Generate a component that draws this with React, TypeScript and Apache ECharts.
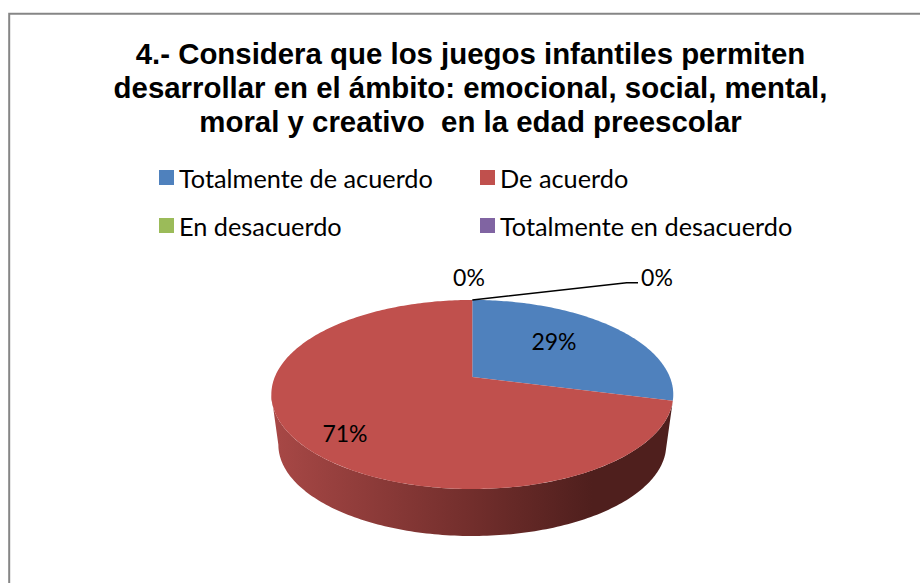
import React, { useEffect, useRef } from "react";
import * as echarts from "echarts";

const titleText = "4.- Considera que los juegos infantiles permiten\ndesarrollar en el ámbito: emocional, social, mental,\nmoral y creativo  en la edad preescolar";
const categories = ["Totalmente de acuerdo", "De acuerdo", "En desacuerdo", "Totalmente en desacuerdo"];
const values = [29, 71, 0, 0];
const colors = ["#4F81BD", "#C0504D", "#9BBB59", "#8064A2"];

// layout of the tilted disc (a projective view of a circle)
const CX = 472.3, CY = 377, A = 197.5, B = 91.3, K = 0.185;
const BASE_SCALE = 0.965, BASE_CY = 427.9;
const labelAt = [[554, 341], [345, 433], [469, 277], [657, 277]];
const legendAt = [[159, 165], [480, 165], [159, 213], [480, 213]];

const project = (deg: number, r: number, cy: number, scale: number): number[] => {
  const t = (deg * Math.PI) / 180;
  const s = r * Math.sin(t), c = r * Math.cos(t);
  const d = 1 + K * c;
  return [CX + (scale * A * s) / d, cy - (scale * B * c) / d];
};
const arc = (from: number, to: number, cy: number, scale: number) => {
  const n = Math.max(2, Math.ceil(Math.abs(to - from)));
  const out: number[][] = [];
  for (let i = 0; i <= n; i++) out.push(project(from + ((to - from) * i) / n, 1, cy, scale));
  return out;
};
const total = values.reduce((a, b) => a + b, 0);
const startDeg = (i: number) => (values.slice(0, i).reduce((a, b) => a + b, 0) / total) * 360;
const RIGHT_EDGE = (Math.acos(-K) * 180) / Math.PI;
const LEFT_EDGE = 360 - RIGHT_EDGE;

const wallFill = new echarts.graphic.LinearGradient(272, 0, 672, 0, [
  { offset: 0, color: "#A84846" },
  { offset: 0.5, color: "#722E2C" },
  { offset: 0.8, color: "#4F1F1D" },
  { offset: 1, color: "#4F1F1D" },
], true);

const renderSlice = (i: number) => () => {
  const a0 = startDeg(i), a1 = a0 + (values[i] / total) * 360;
  const children: any[] = [];
  if (values[i] > 0) {
    const w0 = Math.max(a0, RIGHT_EDGE), w1 = Math.min(a1, LEFT_EDGE);
    if (w1 - w0 > 20) {
      children.push({
        type: "polygon",
        shape: { points: [...arc(w0, w1, CY, 1), ...arc(w1, w0, BASE_CY, BASE_SCALE)] },
        style: { fill: wallFill },
      });
    }
    children.push({
      type: "polygon",
      shape: { points: [project(0, 0, CY, 1), ...arc(a0, a1, CY, 1)] },
      style: { fill: colors[i] },
    });
  }
  children.push({
    type: "text",
    z2: 10,
    style: {
      x: labelAt[i][0], y: labelAt[i][1], text: `${values[i]}%`,
      fill: "#000", font: "23px Lato", align: "center", verticalAlign: "middle",
    },
  });
  if (i === 3) {
    children.push({
      type: "polyline",
      z2: 10,
      shape: { points: [project(a0, 1, CY, 1), [626.7, 282.7], [638, 282.7]] },
      style: { fill: "none", stroke: "#000", lineWidth: 1.5 },
    });
  }
  return { type: "group", children };
};

export default function App() {
  const ref = useRef<HTMLDivElement>(null);
  useEffect(() => {
    const chart = echarts.init(ref.current!, null, { renderer: "svg" });
    chart.setOption({
      animation: false,
      backgroundColor: "#fff",
      title: {
        text: titleText,
        left: 465.5,
        top: 31,
        textAlign: "center",
        textStyle: { fontFamily: "Liberation Sans", fontWeight: "bold", fontSize: 29.4, lineHeight: 34, color: "#000" },
      },
      legend: categories.map((name, i) => ({
        data: [name],
        left: legendAt[i][0],
        top: legendAt[i][1],
        padding: 0,
        icon: "rect",
        itemWidth: 15,
        itemHeight: 15,
        selectedMode: false,
        textStyle: { fontFamily: "Lato", fontSize: 25.3, color: "#000" },
      })),
      graphic: [{
        type: "rect",
        silent: true,
        z: -1,
        shape: { x: 9.2, y: 13.7, width: 1000, height: 1000 },
        style: { fill: "none", stroke: "#868686", lineWidth: 2 },
      }],
      series: categories.map((name, i) => ({
        type: "custom",
        name,
        coordinateSystem: "none",
        itemStyle: { color: colors[i] },
        renderItem: renderSlice(i),
        data: [values[i]],
      })),
    });
    return () => chart.dispose();
  }, []);
  return <div ref={ref} style={{ position: "fixed", left: 0, top: 0, width: 920, height: 583 }} />;
}
